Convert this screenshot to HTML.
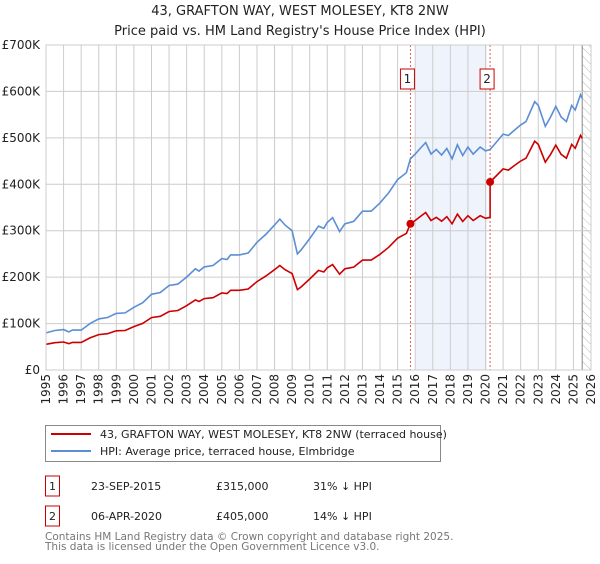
<!DOCTYPE html>
<html><head><meta charset="utf-8"><style>
body{margin:0;width:600px;height:560px;background:#fff;font-family:"DejaVu Sans","Liberation Sans",sans-serif;overflow:hidden}
</style></head><body>
<svg width="600" height="560" xmlns="http://www.w3.org/2000/svg" font-family="DejaVu Sans, Liberation Sans, sans-serif">
<defs><pattern id="hatch" width="6" height="6" patternUnits="userSpaceOnUse" patternTransform="rotate(-45)"><line x1="0" y1="0" x2="0" y2="6" stroke="#bbb" stroke-width="1"/></pattern></defs>
<g id="root"></g>
</svg>
<script>
const hpiYears=[1995.0,1995.5,1996.0,1996.3,1996.5,1997.0,1997.5,1998.0,1998.5,1999.0,1999.5,2000.0,2000.5,2001.0,2001.5,2002.0,2002.5,2003.0,2003.5,2003.7,2004.0,2004.5,2005.0,2005.3,2005.5,2006.0,2006.5,2007.0,2007.5,2008.0,2008.3,2008.6,2009.0,2009.3,2009.5,2010.0,2010.5,2010.8,2011.0,2011.3,2011.7,2012.0,2012.5,2013.0,2013.5,2014.0,2014.5,2015.0,2015.5,2015.73,2016.0,2016.3,2016.6,2016.9,2017.2,2017.5,2017.8,2018.1,2018.4,2018.7,2019.0,2019.3,2019.7,2020.0,2020.26,2020.6,2021.0,2021.3,2021.6,2022.0,2022.3,2022.8,2023.0,2023.4,2023.7,2024.0,2024.3,2024.6,2024.9,2025.1,2025.4,2025.5];
const hpiValues=[80,85,87,82,86,86,100,110,113,122,123,135,145,163,167,182,185,200,218,213,222,225,240,238,248,248,252,275,292,312,325,312,300,250,258,283,310,305,318,328,298,315,320,342,342,360,382,410,425,455,465,478,490,465,475,463,477,455,485,462,480,465,480,472,475,490,508,505,515,528,535,578,570,525,545,568,545,535,570,560,593,585];
const saleYears=[2015.73,2020.26];
const salePrices=[315,405];
const saleLabels=["1","2"];
const yTicks=[0,100,200,300,400,500,600,700];
const yTickLabels=["£0","£100K","£200K","£300K","£400K","£500K","£600K","£700K"];
const xTicks=[];for(let y=1995;y<=2026;y++)xTicks.push(y);

const L=46,R=591,T=45,B=370,X0=1995,X1=2026;
const sx=v=>L+(v-X0)/(X1-X0)*(R-L);
const sy=v=>B-v/700*(B-T);
const NS="http://www.w3.org/2000/svg";
const root=document.getElementById('root');
function mk(tag,attrs,parent){const e=document.createElementNS(NS,tag);for(const k in attrs)e.setAttribute(k,attrs[k]);(parent||root).appendChild(e);return e;}
function hpiAt(y){for(let i=0;i<hpiYears.length-1;i++){if(y>=hpiYears[i]&&y<=hpiYears[i+1]){const t=(y-hpiYears[i])/(hpiYears[i+1]-hpiYears[i]);return hpiValues[i]+t*(hpiValues[i+1]-hpiValues[i]);}}return hpiValues[hpiValues.length-1];}

let t=mk('text',{x:300,y:15,'text-anchor':'middle','font-size':13,fill:'#222'});t.textContent="43, GRAFTON WAY, WEST MOLESEY, KT8 2NW";

t=mk('text',{x:300,y:35,'text-anchor':'middle','font-size':13,fill:'#222'});t.textContent="Price paid vs. HM Land Registry's House Price Index (HPI)";


let sh=mk('rect',{x:sx(saleYears[0])+5,y:T,width:sx(saleYears[1])-sx(saleYears[0])-8,height:B-T,fill:'#eef3fc'});

let hz=mk('rect',{x:sx(2025.5),y:T,width:R-sx(2025.5),height:B-T,fill:'url(#hatch)'});

mk('line',{x1:sx(2025.5),y1:T,x2:sx(2025.5),y2:B,stroke:'#888','stroke-width':1});

xTicks.forEach(y=>{const l=mk('line',{x1:sx(y),y1:T,x2:sx(y),y2:B,stroke:'#ccc','stroke-width':1});
 const tx=mk('text',{transform:`translate(${sx(y)+4},${B+4}) rotate(-90)`,'text-anchor':'end','font-size':12,fill:'#222'});tx.textContent=y;
 });
yTicks.forEach((v,i)=>{const l=mk('line',{x1:L,y1:sy(v),x2:R,y2:sy(v),stroke:'#ccc','stroke-width':1});
 const tx=mk('text',{x:L-6,y:sy(v)+4,'text-anchor':'end','font-size':12,fill:'#222'});tx.textContent=yTickLabels[i];
 });

saleYears.forEach(y=>{const l=mk('line',{x1:sx(y),y1:T,x2:sx(y),y2:B,stroke:'#e55','stroke-width':1,'stroke-dasharray':'2,2'});});

let d=hpiYears.map((y,i)=>(i?'L':'M')+sx(y).toFixed(1)+','+sy(hpiValues[i]).toFixed(1)).join('');
let p=mk('path',{d:d,fill:'none',stroke:'#5b8fd4','stroke-width':1.6});


const r0=salePrices[0]/hpiAt(saleYears[0]), r1=salePrices[1]/hpiAt(saleYears[1]);
let pts=[];
hpiYears.forEach((y,i)=>{if(y<=saleYears[1]-1e-6){pts.push([y,hpiValues[i]*r0]);}});
pts.push([saleYears[1],hpiAt(saleYears[1])*r0]);
pts.push([saleYears[1],salePrices[1]]);
hpiYears.forEach((y,i)=>{if(y>saleYears[1]+1e-6)pts.push([y,hpiValues[i]*r1]);});
d=pts.map((q,i)=>(i?'L':'M')+sx(q[0]).toFixed(1)+','+sy(q[1]).toFixed(1)).join('');
p=mk('path',{d:d,fill:'none',stroke:'#cc0000','stroke-width':1.6});


saleYears.forEach((y,i)=>{const c=mk('circle',{cx:sx(y),cy:sy(salePrices[i]),r:4,fill:'#cc0000'});
 const g=mk('g',{});
 mk('rect',{x:sx(y)-10,y:69,width:14,height:20,fill:'#fff',stroke:'#cc0000','stroke-width':1},g);
 const tx=mk('text',{x:sx(y)-3,y:83,'text-anchor':'middle','font-size':12,fill:'#222'},g);tx.textContent=saleLabels[i];
});
mk('rect',{x:L,y:T,width:R-L,height:B-T,fill:'none',stroke:'#ccc','stroke-width':1});

let lg=mk('g',{});
mk('rect',{x:45.5,y:425.5,width:395,height:36,fill:'#fff',stroke:'#888','stroke-width':1},lg);
mk('line',{x1:51,y1:434,x2:91,y2:434,stroke:'#cc0000','stroke-width':2},lg);
t=mk('text',{x:100,y:438,'font-size':11,fill:'#222'},lg);t.textContent="43, GRAFTON WAY, WEST MOLESEY, KT8 2NW (terraced house)";
mk('line',{x1:51,y1:451,x2:91,y2:451,stroke:'#5b8fd4','stroke-width':2},lg);
t=mk('text',{x:100,y:455,'font-size':11,fill:'#222'},lg);t.textContent="HPI: Average price, terraced house, Elmbridge";

const rows=[["1","23-SEP-2015","£315,000","31% \u2193 HPI"],["2","06-APR-2020","£405,000","14% \u2193 HPI"]];
rows.forEach((r,i)=>{const y=i?516:486;const g=mk('g',{});
 mk('rect',{x:45.5,y:y-10,width:14,height:20,fill:'#fff',stroke:'#cc0000','stroke-width':1},g);
 let a=mk('text',{x:52.5,y:y+4,'text-anchor':'middle','font-size':11,fill:'#222'},g);a.textContent=r[0];
 a=mk('text',{x:91,y:y+4,'font-size':11,fill:'#222'},g);a.textContent=r[1];
 a=mk('text',{x:216,y:y+4,'font-size':11,fill:'#222'},g);a.textContent=r[2];
 a=mk('text',{x:313,y:y+4,'font-size':11,fill:'#222'},g);a.textContent=r[3];});
t=mk('text',{x:45,y:540,'font-size':10.5,fill:'#777'});t.textContent="Contains HM Land Registry data © Crown copyright and database right 2025.";

t=mk('text',{x:45,y:550,'font-size':10.5,fill:'#777'});t.textContent="This data is licensed under the Open Government Licence v3.0.";

</script>
</body></html>
